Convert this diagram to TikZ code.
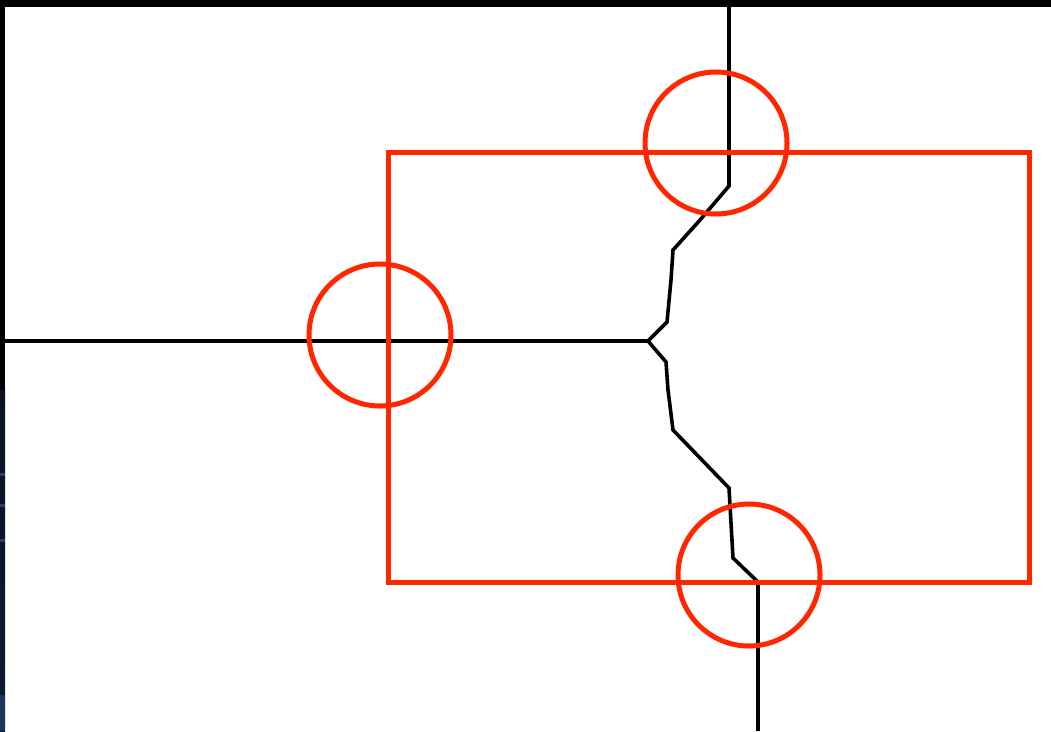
\documentclass[tikz,border=0pt]{standalone}
\begin{document}
\begin{tikzpicture}[x=1pt,y=-1pt,
  wire/.style={black,line width=3.6pt,line join=miter},
  redmark/.style={draw=markred,line width=5pt},
  ]
\definecolor{markred}{RGB}{255,38,0}
\definecolor{navy}{RGB}{14,26,48}
\definecolor{navylight}{RGB}{36,62,110}
\useasboundingbox (0,0) rectangle (1051,731);
\fill[white] (0,0) rectangle (1051,731);
% frame strips
\fill[black] (0,0) rectangle (1051,7);
\fill[black] (0,0) rectangle (5,390);
\shade[top color=navy!70!black, bottom color=navy] (0,390) rectangle (5,731);
\foreach \yy in {473,504,539} {\fill[navylight] (0,\yy) rectangle (5,\yy+3);}
\fill[navylight!70!navy] (0,695) rectangle (5,731);
% wire path
\coordinate (t0) at (729,7);
\coordinate (t1) at (729,186);
\coordinate (t2) at (700,220);
\coordinate (t3) at (673,250);
\coordinate (t4) at (671,280);
\coordinate (t5) at (667,322);
\coordinate (j) at (648,341);
\coordinate (l0) at (5,341);
\coordinate (b1) at (666,362);
\coordinate (b2) at (668,390);
\coordinate (b3) at (673,430);
\coordinate (b4) at (729,488);
\coordinate (b5) at (733,558);
\coordinate (b6) at (758,582);
\coordinate (b7) at (758,731);
\draw[wire] (t0) -- (t1) -- (t2) -- (t3) -- (t4) -- (t5) -- (j);
\draw[wire] (l0) -- (j) -- (b1) -- (b2) -- (b3) -- (b4) -- (b5) -- (b6) -- (b7);
% red marks
\draw[redmark] (388,152) rectangle (1029,582);
\coordinate (ct) at (716,143);
\coordinate (cl) at (380,335);
\coordinate (cb) at (749,575);
\draw[redmark] (ct) circle[radius=71];
\draw[redmark] (cl) circle[radius=71];
\draw[redmark] (cb) circle[radius=71];
\end{tikzpicture}
\end{document}
